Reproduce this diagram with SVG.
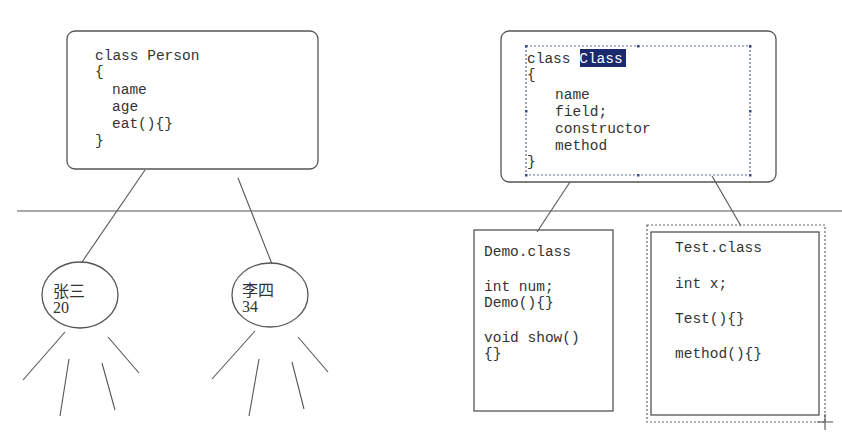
<svg xmlns="http://www.w3.org/2000/svg" width="842" height="441" viewBox="0 0 842 441">
<style>
.box{fill:none;stroke:#555;stroke-width:1.3}
.ln{stroke:#555;stroke-width:1.1;fill:none}
.t{font-family:"Liberation Mono",monospace;font-size:14.5px;fill:#333}
.c{font-family:"Liberation Serif","Noto Sans CJK SC",serif;font-size:16px;fill:#333}
.dot{fill:none;stroke:#667;stroke-width:1.2;stroke-dasharray:2 2}
.sel{fill:none;stroke:#5a6aa0;stroke-width:1.2;stroke-dasharray:2 2}
.h{fill:#3a4a8a}
</style>
<rect width="842" height="441" fill="#fff"/>
<g id="connectors">
<line class="ln" x1="17" y1="211" x2="842" y2="211"/>
<line class="ln" x1="145" y1="170" x2="82" y2="262"/>
<line class="ln" x1="238" y1="178" x2="272" y2="264"/>
<line class="ln" x1="570" y1="182" x2="537" y2="232"/>
<line class="ln" x1="712" y1="176" x2="741" y2="226"/>
<line class="ln" x1="65" y1="332" x2="23" y2="380"/>
<line class="ln" x1="69" y1="359" x2="60" y2="416"/>
<line class="ln" x1="102" y1="363" x2="115" y2="410"/>
<line class="ln" x1="108" y1="337" x2="139" y2="373"/>
<line class="ln" x1="255" y1="331" x2="212" y2="379"/>
<line class="ln" x1="259" y1="359" x2="249" y2="416"/>
<line class="ln" x1="292" y1="362" x2="304" y2="409"/>
<line class="ln" x1="298" y1="337" x2="328" y2="372"/>
</g>
<g id="person">
<rect class="box" x="67" y="31" width="251" height="138" rx="8"/>
<text class="t" x="95" y="60">class Person</text>
<text class="t" x="95" y="76">{</text>
<text class="t" x="112" y="94">name</text>
<text class="t" x="112" y="111">age</text>
<text class="t" x="112" y="128">eat(){}</text>
<text class="t" x="95" y="145">}</text>
</g>
<g id="class">
<rect class="box" x="501" y="31" width="275" height="151" rx="8"/>
<rect class="sel" x="526" y="46" width="224" height="129"/>
<rect class="h" x="525" y="45" width="2.5" height="2.5"/>
<rect class="h" x="637" y="45" width="2.5" height="2.5"/>
<rect class="h" x="749" y="45" width="2.5" height="2.5"/>
<rect class="h" x="525" y="110" width="2.5" height="2.5"/>
<rect class="h" x="749" y="110" width="2.5" height="2.5"/>
<rect class="h" x="525" y="174" width="2.5" height="2.5"/>
<rect class="h" x="637" y="174" width="2.5" height="2.5"/>
<rect class="h" x="749" y="174" width="2.5" height="2.5"/>
<rect x="580" y="49" width="46" height="18" fill="#1a2a6c"/>
<text class="t" x="527" y="63">class <tspan fill="#fff">Class</tspan></text>
<text class="t" x="527" y="79">{</text>
<text class="t" x="555" y="99">name</text>
<text class="t" x="555" y="116">field;</text>
<text class="t" x="555" y="133">constructor</text>
<text class="t" x="555" y="150">method</text>
<text class="t" x="527" y="166">}</text>
</g>
<g id="zhangsan">
<ellipse class="box" cx="80" cy="295" rx="38" ry="33"/>
<text class="c" x="53" y="297">张三</text>
<text class="c" x="53" y="313">20</text>
</g>
<g id="lisi">
<ellipse class="box" cx="270" cy="295" rx="38" ry="32"/>
<text class="c" x="242" y="296">李四</text>
<text class="c" x="242" y="312">34</text>
</g>
<g id="demo">
<rect class="box" x="474" y="230" width="139" height="181"/>
<text class="t" x="484" y="256">Demo.class</text>
<text class="t" x="484" y="291">int num;</text>
<text class="t" x="484" y="307">Demo(){}</text>
<text class="t" x="484" y="342">void show()</text>
<text class="t" x="484" y="358">{}</text>
</g>
<g id="test">
<rect class="dot" x="647" y="225" width="178" height="197"/>
<rect class="box" x="651" y="232" width="168" height="183"/>
<text class="t" x="675" y="252">Test.class</text>
<text class="t" x="675" y="288">int x;</text>
<text class="t" x="675" y="323">Test(){}</text>
<text class="t" x="675" y="358">method(){}</text>
<path class="ln" d="M817 422H833M825 414V430"/>
</g>
</svg>
